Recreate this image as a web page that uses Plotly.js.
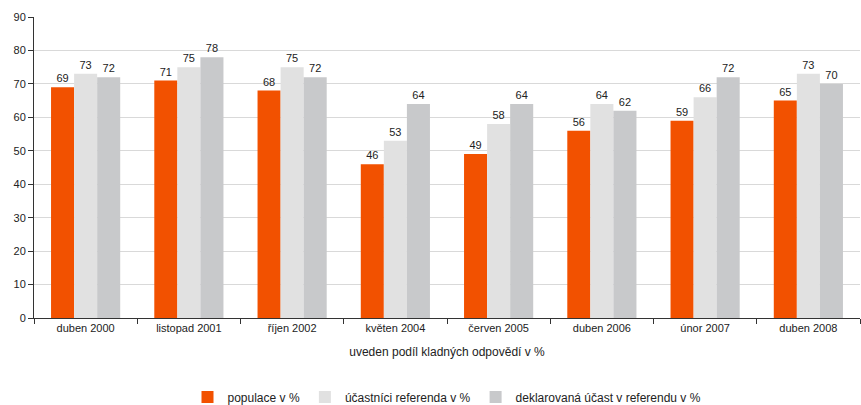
<!DOCTYPE html>
<html><head><meta charset="utf-8">
<script src="https://cdn.plot.ly/plotly-3.0.1.min.js"></script>
<style>html,body{margin:0;padding:0;background:#fff}#chart{width:861px;height:405px}</style>
</head><body><div id="chart"></div>
<script>
const categories = ["duben 2000","listopad 2001","říjen 2002","květen 2004","červen 2005","duben 2006","únor 2007","duben 2008"];
const populace = [69,71,68,46,49,56,59,65];
const ucastnici = [73,75,75,53,58,64,66,73];
const deklarovana = [72,78,72,64,64,62,72,70];
const seriesNames = ["populace v %","účastníci referenda v %","deklarovaná účast v referendu v %"];
const colors = ["#f25100","#e1e1e1","#c8c9cb"];
const vals = [populace, ucastnici, deklarovana];
const traces = vals.map((v,i)=>({
  type:'bar', x:categories, y:v, name:seriesNames[i],
  marker:{color:colors[i]},
  text:v.map(String), textposition:'outside', cliponaxis:false,
  textfont:{family:'Liberation Sans, Arial, sans-serif', size:11, color:'#222'}
}));
const layout = {
  width:861, height:405,
  margin:{l:34,r:1,t:17,b:87, autoexpand:false},
  paper_bgcolor:'#fff', plot_bgcolor:'#fff',
  font:{family:'Liberation Sans, Arial, sans-serif', size:11, color:'#222'},
  barmode:'group', bargap:0.33, bargroupgap:0,
  showlegend:true,
  legend:{orientation:'h', x:0.5, xanchor:'center', yref:'container', y:0.02, yanchor:'middle', font:{size:12}, traceorder:'normal'},
  xaxis:{type:'category', tickson:'boundaries', ticks:'outside', ticklen:5, tickcolor:'#333',
    showline:true, linecolor:'#333', linewidth:1, showgrid:false,
    tickfont:{size:11},
    title:{text:'uveden podíl kladných odpovědí v %', font:{size:12}, standoff:14}},
  yaxis:{range:[0,90], dtick:10, ticks:'outside', ticklen:5, tickcolor:'#333',
    showline:true, linecolor:'#333', linewidth:1, showgrid:true, gridcolor:'#d9d9d9', gridwidth:1,
    zeroline:false, tickfont:{size:11}}
};
Plotly.newPlot('chart', traces, layout, {displayModeBar:false, staticPlot:true});
</script></body></html>
